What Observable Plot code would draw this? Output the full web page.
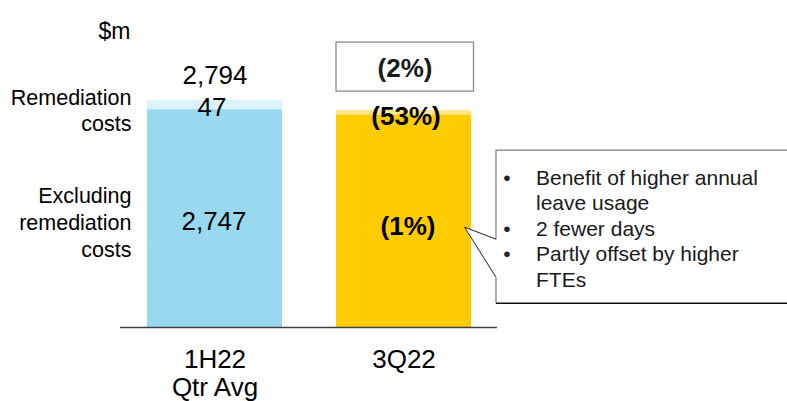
<!DOCTYPE html>
<html>
<head>
<meta charset="utf-8">
<script src="https://cdn.jsdelivr.net/npm/d3@7"></script>
<script src="https://cdn.jsdelivr.net/npm/@observablehq/plot@0.6"></script>
<style>
  html, body { margin: 0; padding: 0; background: #fff; overflow: hidden; }
  svg { display: block; }
</style>
</head>
<body>
<div id="chart"></div>
<script>
// ---- data ----
const categories = ["1H22 Qtr Avg", "3Q22"];
const categoryLabels = ["1H22\nQtr Avg", "3Q22"];
const excludingRemediation = [2747, 2720];
const remediationCosts = [47, 22];
const totalCosts = [2794, 2742];
const excludingLabels = ["2,747", "(1%)"];
const remediationLabels = ["47", "(53%)"];
const totalLabels = ["2,794", "(2%)"];
const segmentNames = ["Remediation\ncosts", "Excluding\nremediation\ncosts"];
const calloutBullets = [
  ["Benefit of higher annual", "leave usage"],
  ["2 fewer days"],
  ["Partly offset by higher", "FTEs"]
];
const unitLabel = "$m";
const axisBase = 1608; // truncated value axis start
const axisTop = 2800;

// ---- styles ----
const darkFill = ["#99d9f0", "#ffcc00"];
const lightFill = ["#daf2fa", "#ffe68c"];
const font = "'Liberation Sans', Arial, Helvetica, sans-serif";

const data = categories.map((c, i) => ({
  cat: c,
  excl: excludingRemediation[i],
  total: excludingRemediation[i] + remediationCosts[i],
  shownTotal: totalCosts[i],
  exclLabel: excludingLabels[i],
  remLabel: remediationLabels[i],
  totalLabel: totalLabels[i]
}));

const marks = [];
data.forEach((d, i) => {
  const bold = i === 1;
  marks.push(
    Plot.barY([d], {x: "cat", y1: () => axisBase, y2: "excl", fill: darkFill[i]}),
    Plot.barY([d], {x: "cat", y1: "excl", y2: "total", fill: lightFill[i]}),
    Plot.text([d], {x: "cat", y: r => (axisBase + r.excl) / 2, text: "exclLabel",
      fontSize: 26, fontWeight: bold ? "bold" : "normal", dx: bold ? 4 : -1, dy: bold ? 6 : 3, fill: "#000"}),
    Plot.text([d], {x: "cat", y: r => (r.excl + r.total) / 2, text: "remLabel",
      fontSize: 26, fontWeight: bold ? "bold" : "normal", dx: bold ? 2 : -3, dy: bold ? 4 : 3, fill: "#000"})
  );
});

// total labels: plain above bar 1, boxed above bar 2
marks.push(
  Plot.text([data[0]], {x: "cat", y: "total", text: "totalLabel", fontSize: 26, dx: 0, dy: -25, fill: "#000"}),
  Plot.barY([data[1]], {x: "cat", y1: "total", y2: "total", fill: "#fff", stroke: "#8a8a8a", strokeWidth: 1.3,
    insetTop: -68, insetBottom: 19, insetRight: -2.5}),
  Plot.text([data[1]], {x: "cat", y: "total", text: "totalLabel", fontSize: 26, fontWeight: "bold", dx: 1, dy: -42, fill: "#1a1a1a"})
);

// segment names on the left
marks.push(
  Plot.text([segmentNames[0]], {frameAnchor: "left", y: () => excludingRemediation[0], text: d => d,
    textAnchor: "end", dx: 11, dy: 0, fontSize: 21.5, lineHeight: 1.24, fill: "#000"}),
  Plot.text([segmentNames[1]], {frameAnchor: "left", y: () => (axisBase + excludingRemediation[0]) / 2, text: d => d,
    textAnchor: "end", dx: 11, dy: 3, fontSize: 21.5, lineHeight: 1.24, fill: "#000"}),
  Plot.text([unitLabel], {frameAnchor: "top-left", text: d => d, textAnchor: "end", dx: 10, dy: -77, fontSize: 23, fill: "#000"})
);

// baseline
marks.push(Plot.ruleY([axisBase], {stroke: "#404040", strokeWidth: 1.3}));

// category axis
marks.push(Plot.axisX({
  tickSize: 0, tickPadding: 21, fontSize: 26, lineHeight: 28 / 26,
  tickFormat: c => categoryLabels[categories.indexOf(c)], label: null, fill: "#000"
}));

// callout annotation attached to the 3Q22 bar
marks.push(function callout(index, scales, values, dimensions) {
  const x = scales.x, y = scales.y;
  const bw = typeof x.bandwidth === "function" ? x.bandwidth() : 135.5;
  const x0 = x(categories[1]) + bw;
  const tipX = x0 - 6.5;
  const tipY = y((axisBase + excludingRemediation[1]) / 2) + 6.5;
  const left = x0 + 25, right = 787;
  const top = tipY - 77, bottom = tipY + 76;
  const g = d3.create("svg:g").attr("text-anchor", "start").attr("font-family", font);
  g.append("rect").attr("x", left).attr("y", top).attr("width", right - left).attr("height", bottom - top)
    .attr("fill", "#fff").attr("stroke", "none");
  g.append("path").attr("d", `M${left},${tipY + 12} L${tipX},${tipY} L${left},${tipY + 50} Z`)
    .attr("fill", "#fff").attr("stroke", "none");
  g.append("path")
    .attr("d", `M${right},${top} H${left} V${tipY + 12} M${left},${tipY + 50} V${bottom}`)
    .attr("fill", "none").attr("stroke", "#7f7f7f").attr("stroke-width", 1.2);
  g.append("path").attr("d", `M${left},${bottom} H${right}`)
    .attr("fill", "none").attr("stroke", "#111").attr("stroke-width", 1.5);
  g.append("path").attr("d", `M${left},${tipY + 12} L${tipX},${tipY} L${left},${tipY + 50}`)
    .attr("fill", "none").attr("stroke", "#222").attr("stroke-width", 1);
  let row = 0;
  const step = 25.5;
  calloutBullets.forEach(lines => {
    const cy = top + 27 + row * step;
    g.append("text").attr("x", left + 11).attr("y", cy).attr("dy", "0.35em")
      .attr("text-anchor", "middle").attr("font-size", 21).attr("fill", "#222").text("•");
    lines.forEach((ln, k) => {
      g.append("text").attr("x", left + 40).attr("y", top + 27 + (row + k) * step).attr("dy", "0.35em")
        .attr("text-anchor", "start").attr("font-size", 21).attr("fill", "#1a1a1a").text(ln);
    });
    row += lines.length;
  });
  return g.node();
});

const chart = Plot.plot({
  width: 787,
  height: 401,
  marginTop: 99,
  marginBottom: 74,
  marginLeft: 120,
  marginRight: 290,
  x: {domain: categories, paddingInner: 0.286, paddingOuter: 0.136, axis: null},
  y: {domain: [axisBase, axisTop], axis: null},
  style: {fontFamily: font, background: "#fff", color: "#000"},
  marks
});
document.getElementById("chart").appendChild(chart);
</script>
</body>
</html>
